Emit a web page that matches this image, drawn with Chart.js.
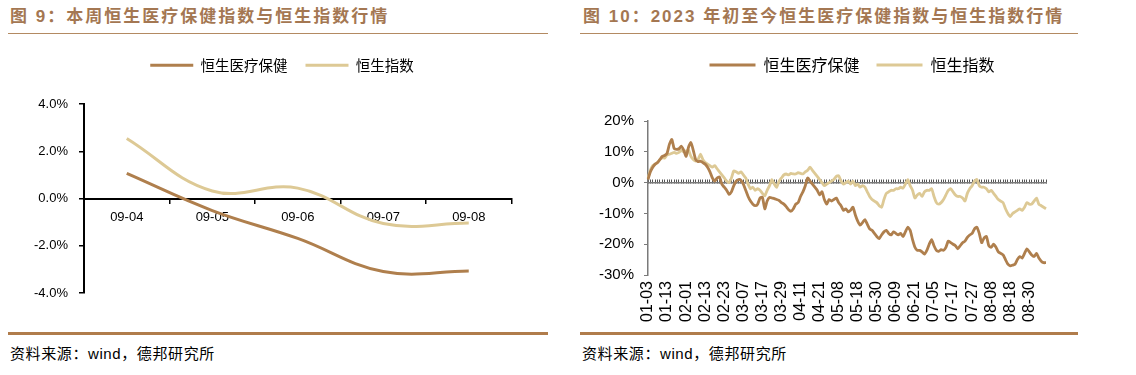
<!DOCTYPE html>
<html>
<head>
<meta charset="utf-8">
<script src="https://cdn.jsdelivr.net/npm/chart.js@4.4.0/dist/chart.umd.min.js"></script>
<style>
  html, body { margin: 0; padding: 0; background: #fff; }
  body { width: 1136px; height: 375px; position: relative; overflow: hidden; }
  .title { position: absolute; top: 7px; font: bold 17px "Liberation Sans", "Noto Sans CJK SC", sans-serif; color: #A47752; letter-spacing: 2px; line-height: 20px; white-space: nowrap; }
  .rule-top { position: absolute; top: 33px; height: 1px; background: #B38A62; }
  .rule-bot { position: absolute; top: 332px; height: 3px; background: #B07C4B; }
  .src { position: absolute; top: 344px; font: 15px "Liberation Sans", "Noto Sans CJK SC", sans-serif; color: #000; letter-spacing: 0.6px; line-height: 20px; white-space: nowrap; }
  canvas { position: absolute; }
</style>
</head>
<body>
<div class="title" style="left:10px">图 9：本周恒生医疗保健指数与恒生指数行情</div>
<div class="rule-top" style="left:8px;width:540px"></div>
<div class="rule-bot" style="left:8px;width:540px"></div>
<div class="src" style="left:10px">资料来源：wind，德邦研究所</div>

<div class="title" style="left:583px">图 10：2023 年初至今恒生医疗保健指数与恒生指数行情</div>
<div class="rule-top" style="left:580px;width:498px"></div>
<div class="rule-bot" style="left:580px;width:498px"></div>
<div class="src" style="left:582px">资料来源：wind，德邦研究所</div>

<canvas id="c1" width="545" height="280" style="left:10px;top:40px"></canvas>
<canvas id="c2" width="500" height="292" style="left:575px;top:40px"></canvas>

<script>
// ---------- data ----------
const seriesNames = ['恒生医疗保健', '恒生指数'];

// Figure 9: this week (daily % change vs. week start)
const weekDates = ['09-04', '09-05', '09-06', '09-07', '09-08'];
const weekHealth = [1.06, -0.51, -1.69, -3.09, -3.07];
const weekHSI = [2.54, 0.32, 0.44, -1.06, -1.04];

// Figure 10: year to date (% change since start of 2023)
const ytdDates = [
  '01-03','01-04','01-05','01-06','01-09','01-10','01-11','01-12','01-13','01-16','01-17','01-18','01-19','01-20','01-30','01-31',
  '02-01','02-02','02-03','02-06','02-07','02-08','02-09','02-10','02-13','02-14','02-15','02-16','02-17','02-20','02-21','02-22','02-23','02-24','02-27','02-28',
  '03-01','03-02','03-03','03-06','03-07','03-08','03-09','03-10','03-13','03-14','03-15','03-16','03-17','03-20','03-21','03-22','03-23','03-24','03-27','03-28','03-29','03-30','03-31',
  '04-03','04-04','04-06','04-07','04-10','04-11','04-12','04-13','04-14','04-17','04-18','04-19','04-20','04-21','04-24','04-25','04-26','04-27','04-28',
  '05-04','05-05','05-08','05-09','05-10','05-11','05-12','05-15','05-16','05-17','05-18','05-19','05-22','05-23','05-24','05-25','05-26','05-29','05-30','05-31',
  '06-01','06-02','06-05','06-06','06-07','06-08','06-09','06-12','06-13','06-14','06-15','06-16','06-19','06-20','06-21','06-26','06-27','06-28','06-29','06-30',
  '07-03','07-04','07-05','07-06','07-07','07-10','07-11','07-12','07-13','07-14','07-17','07-18','07-19','07-20','07-21','07-24','07-25','07-26','07-27','07-28','07-31',
  '08-01','08-02','08-03','08-04','08-07','08-08','08-09','08-10','08-11','08-14','08-15','08-16','08-17','08-18','08-21','08-22','08-23','08-24','08-25','08-28','08-29','08-30','08-31',
  '09-01','09-04','09-05','09-06','09-07','09-08'
];
const ytdHealth = [
  1.0,3.5,5.0,6.0,6.5,7.5,8.5,8.8,9.5,12.5,
  14.0,11.0,10.8,11.0,11.8,10.5,8.5,11.5,13.0,10.5,
  7.5,6.8,7.0,6.5,6.0,5.0,3.5,1.5,0.5,1.5,
  1.8,-0.5,-1.5,-2.5,-3.8,-3.0,-1.0,0.5,1.0,0.8,
  -0.5,-2.5,-4.5,-6.0,-7.0,-7.5,-7.0,-5.0,-4.8,-8.5,
  -6.0,-4.8,-5.0,-5.2,-5.5,-5.8,-6.5,-7.0,-7.8,-8.8,
  -9.3,-8.5,-7.0,-6.5,-4.5,-3.0,-1.0,1.5,0.5,-0.5,
  -1.5,-2.5,-4.0,-3.0,-5.5,-7.0,-5.5,-6.0,-5.5,-5.0,
  -6.5,-7.5,-9.0,-8.5,-9.5,-9.0,-8.0,-10.5,-12.5,-13.8,
  -13.0,-12.0,-13.5,-15.0,-15.5,-16.5,-17.5,-18.2,-17.0,-16.0,
  -15.5,-16.5,-17.0,-16.0,-16.5,-17.0,-16.5,-17.5,-16.0,-14.5,
  -15.5,-18.5,-21.0,-22.0,-22.0,-22.5,-23.2,-22.0,-20.0,-18.5,
  -20.5,-22.0,-22.3,-21.8,-22.0,-21.0,-19.0,-19.5,-20.0,-20.5,
  -21.5,-20.5,-19.5,-19.0,-17.8,-17.0,-16.5,-15.0,-14.5,-16.5,
  -19.5,-18.0,-17.5,-20.5,-21.0,-20.0,-21.0,-22.5,-23.0,-23.5,
  -25.0,-26.5,-27.0,-26.8,-26.5,-25.0,-24.0,-24.5,-23.0,-21.5,
  -22.5,-23.5,-24.0,-23.0,-24.5,-25.5,-26.0,-26.0
];
const ytdHSI = [
  1.5,4.0,5.5,6.0,6.5,7.5,8.0,8.0,9.0,9.2,
  9.5,9.8,9.5,9.8,10.5,10.0,10.3,10.5,8.5,7.5,
  7.0,7.5,9.2,7.5,6.5,6.0,5.5,5.0,5.5,4.5,
  3.5,2.5,1.5,0.5,0.0,1.5,3.8,3.5,3.0,3.5,
  2.5,1.5,-0.5,-2.0,-1.5,-2.5,-2.0,-2.5,-3.5,-4.3,
  -2.5,-1.0,1.0,-0.5,-1.5,0.5,1.5,2.5,2.8,2.5,
  3.0,2.8,2.8,3.2,3.0,2.8,3.5,4.0,5.0,4.0,
  3.0,2.0,1.0,0.0,-1.0,-0.5,0.0,0.5,1.0,2.0,
  2.2,0.5,-0.5,0.0,0.5,-0.5,0.5,-1.0,-0.5,-1.5,
  -1.0,-1.5,-3.0,-4.5,-5.5,-6.0,-6.5,-7.5,-8.0,-5.5,
  -3.5,-3.0,-2.5,-2.5,-2.0,-2.0,-1.5,-1.8,-0.5,1.0,
  -1.0,-2.5,-5.0,-4.0,-3.5,-4.5,-3.0,-2.5,-2.5,-2.0,
  -4.5,-6.5,-7.0,-6.5,-5.5,-4.0,-2.5,-2.0,-3.0,-4.0,
  -4.5,-4.5,-5.0,-6.0,-3.5,-2.0,-1.0,0.5,1.0,-1.0,
  -1.5,-1.5,-2.0,-3.0,-2.5,-3.5,-4.5,-5.5,-6.0,-6.5,
  -8.5,-10.0,-11.0,-10.0,-9.5,-9.0,-8.5,-9.0,-8.0,-6.5,
  -7.0,-7.0,-6.0,-5.0,-7.0,-7.5,-8.0,-8.5
];
const ytdLabelEvery = 8;

// ---------- styling ----------
const DARK = '#AF7F4D';
const LIGHT = '#DDC995';
const LAT = '"Liberation Sans", Arial, sans-serif';
const CJK = '"Noto Sans CJK SC", sans-serif';

// legend tweaks: extra gap below the legend and a horizontal shift
const legendTweak = {
  id: 'legendTweak',
  beforeUpdate(chart, args, opts) {
    const lg = chart.legend;
    if (lg && !lg._gapPatched) {
      const fit = lg.fit;
      lg.fit = function () { fit.call(this); this.height += (opts.gap || 0); };
      lg._gapPatched = true;
    }
  },
  afterLayout(chart, args, opts) {
    const lg = chart.legend;
    if (lg && opts.shift) { lg.left += opts.shift; lg.right += opts.shift; }
  }
};

function legendLabels(chart) {
  return chart.data.datasets.map((ds, i) => ({
    text: ds.label, fillStyle: ds.borderColor, strokeStyle: ds.borderColor,
    lineWidth: 0, hidden: false, datasetIndex: i, fontColor: '#000'
  }));
}

// ---------- Figure 9 ----------
new Chart(document.getElementById('c1'), {
  type: 'line',
  data: {
    labels: weekDates,
    datasets: [
      { label: seriesNames[0], data: weekHealth, borderColor: DARK, backgroundColor: DARK, borderWidth: 3, pointRadius: 0, tension: 0.4 },
      { label: seriesNames[1], data: weekHSI, borderColor: LIGHT, backgroundColor: LIGHT, borderWidth: 3, pointRadius: 0, tension: 0.4 }
    ]
  },
  plugins: [legendTweak],
  options: {
    responsive: false, animation: false, devicePixelRatio: 1,
    layout: { padding: { left: 12, right: 43.5, top: 0, bottom: 27 } },
    plugins: {
      legendTweak: { gap: 21.5, shift: 15.25 },
      tooltip: { enabled: false },
      legend: {
        display: true, position: 'top', fullSize: true,
        labels: { boxWidth: 43, boxHeight: 3, padding: 18, color: '#000', font: { size: 14.5, family: CJK }, generateLabels: legendLabels }
      }
    },
    scales: {
      x: {
        type: 'category', position: { y: 0 }, offset: true,
        grid: { drawOnChartArea: false, offset: true, drawTicks: true, tickLength: 4, color: '#000', lineWidth: 1.5 },
        border: { display: true, color: '#000', width: 2 },
        ticks: { color: '#000', padding: 7, font: { size: 13, family: LAT }, maxRotation: 0, autoSkip: false }
      },
      y: {
        min: -4, max: 4,
        afterFit: s => { s.width = 62; },
        grid: { drawOnChartArea: false, drawTicks: true, tickLength: 5, color: '#000', lineWidth: 1.5 },
        border: { display: true, color: '#000', width: 2 },
        ticks: { stepSize: 2, color: '#000', padding: 11, font: { size: 13, family: LAT }, callback: v => v.toFixed(1) + '%' }
      }
    }
  }
});

// ---------- Figure 10 ----------
new Chart(document.getElementById('c2'), {
  type: 'line',
  data: {
    labels: ytdDates,
    datasets: [
      { label: seriesNames[0], data: ytdHealth, borderColor: DARK, backgroundColor: DARK, borderWidth: 2.8, pointRadius: 0, tension: 0.2 },
      { label: seriesNames[1], data: ytdHSI, borderColor: LIGHT, backgroundColor: LIGHT, borderWidth: 2.8, pointRadius: 0, tension: 0.2 }
    ]
  },
  plugins: [legendTweak],
  options: {
    responsive: false, animation: false, devicePixelRatio: 1,
    layout: { padding: { left: 20, right: 29, top: 0, bottom: 0 } },
    plugins: {
      legendTweak: { gap: 38, shift: 5 },
      tooltip: { enabled: false },
      legend: {
        display: true, position: 'top', fullSize: false,
        labels: { boxWidth: 46, boxHeight: 3, padding: 17, color: '#000', font: { size: 16, family: CJK }, generateLabels: legendLabels }
      }
    },
    scales: {
      x: {
        type: 'category', position: { y: 0 }, offset: false,
        grid: { drawOnChartArea: false, drawTicks: true, tickLength: -4, color: '#555', lineWidth: 1 },
        border: { display: true, color: '#7a7a7a', width: 1.5 },
        ticks: { display: false, autoSkip: false }
      },
      x2: {
        type: 'category', labels: ytdDates, position: 'bottom', offset: false,
        afterFit: s => { s.height = 57; },
        grid: { display: false, drawTicks: false },
        border: { display: false },
        ticks: {
          autoSkip: false, minRotation: 90, maxRotation: 90, padding: 6, color: '#000',
          font: { size: 16, family: LAT },
          callback: (v, i) => (i % ytdLabelEvery === 0 ? ytdDates[i] : '')
        }
      },
      y: {
        min: -30, max: 20,
        afterFit: s => { s.width = 53; },
        grid: { drawOnChartArea: false, drawTicks: true, tickLength: 4, color: '#7a7a7a', lineWidth: 1 },
        border: { display: true, color: '#7a7a7a', width: 1.5 },
        ticks: { stepSize: 10, color: '#000', padding: 10, font: { size: 15, family: LAT }, callback: v => v + '%' }
      }
    }
  }
});
</script>
</body>
</html>
